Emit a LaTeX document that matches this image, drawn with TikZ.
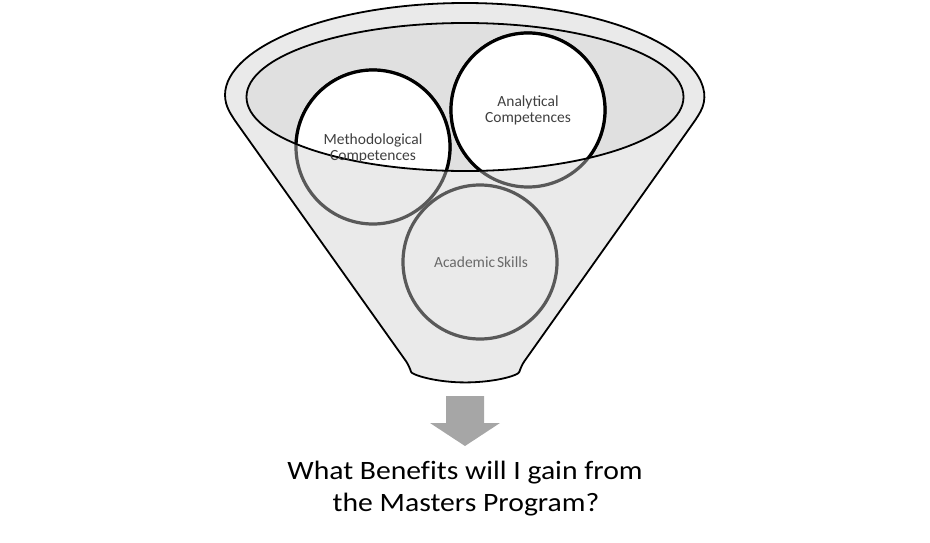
\documentclass[tikz,border=0pt]{standalone}
\usepackage{fontspec}
\setmainfont{Carlito}
\newfontfamily\titlefont[FakeStretch=1.12,Ligatures=NoCommon]{Carlito}
\definecolor{funnelfill}{HTML}{EAEAEA}
\definecolor{innerfill}{HTML}{E0E0E0}
\definecolor{ringgray}{HTML}{595959}
\definecolor{textdark}{HTML}{404040}
\definecolor{textgray}{HTML}{6A6A6A}
\definecolor{arrowgray}{HTML}{A6A6A6}
\tikzset{
  funnel/.style={fill=funnelfill, draw=black, line width=1.8pt, line join=round},
  innerrim/.style={draw=black, line width=1.8pt},
  ballblack/.style={draw=black, line width=3.2pt},
  ballgray/.style={draw=ringgray, line width=3.2pt},
  balltext/.style={align=center, inner sep=0pt, text=textdark,
    font=\fontsize{15.5}{16}\selectfont},
  titletext/.style={inner sep=0pt, text=black, font=\titlefont\fontsize{26.5}{32}\selectfont},
}
\begin{document}
\begin{tikzpicture}[x=1pt,y=-1pt]
\useasboundingbox (0,0) rectangle (930,543);
% funnel body with outer rim
\draw[funnel, rounded corners=6pt] (232.46,117.02) arc[start angle=167.7, end angle=372.3, x radius=238, y radius=94]
  -- (521,366) arc[start angle=5, end angle=175, x radius=56, y radius=18] -- cycle;
% inner ellipse fill
\fill[innerfill] (465,97) ellipse [x radius=218.5, y radius=74];
% lower (seen-through) parts of the upper balls
\draw[ballgray] (373,147) circle [radius=77];
\draw[ballgray] (528,110) circle [radius=77];
% parts inside the rim
\begin{scope}
  \clip (465,97) ellipse [x radius=218.5, y radius=74];
  \fill[white] (373,147) circle [radius=77];
  \fill[white] (528,110) circle [radius=77];
  \draw[ballblack] (373,147) circle [radius=77];
  \draw[ballblack] (528,110) circle [radius=77];
\end{scope}
\draw[innerrim] (465,97) ellipse [x radius=218.5, y radius=74];
% academic skills ball
\draw[ballgray] (480,262) circle [radius=77];
% labels
\node[balltext] (meth) at (373,148) {Methodological\\Competences};
\node[balltext] (anal) at (528,110) {Analytical\\Competences};
\node[balltext, text=textgray] (acad) at (481,262) {Academic\hspace{0.12em}Skills};
% block arrow
\fill[arrowgray] (446,396) -- (484,396) -- (484,423) -- (500,423) -- (465,446)
  -- (430,423) -- (446,423) -- cycle;
% title
\node[titletext, anchor=base] (title1) at (465,479) {What Benefits will I gain from};
\node[titletext, anchor=base] (title2) at (466,511) {the Masters Program?};
\end{tikzpicture}
\end{document}
